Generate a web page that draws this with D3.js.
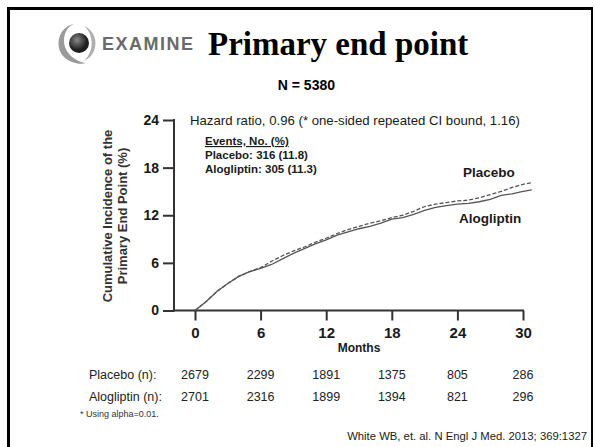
<!DOCTYPE html>
<html>
<head>
<meta charset="utf-8">
<script src="https://cdn.jsdelivr.net/npm/d3@7"></script>
<style>
    body { margin: 0; background: #fff; }
    svg { display: block; font-family: "Liberation Sans", Arial, sans-serif; }
</style>
</head>
<body>
<svg id="chart" width="595" height="447"></svg>
<script>
const months = [0, 1, 2, 3, 4, 5, 6, 7, 8, 9, 10, 11, 12, 13, 14, 15, 16, 17, 18, 19, 20,
    21, 22, 23, 24, 25, 26, 27, 28, 29, 30, 30.8];
const placeboValues = [0, 1.1, 2.4, 3.4, 4.3, 4.9, 5.4, 6.2, 6.9, 7.5, 8.0, 8.6, 9.1, 9.7, 10.2,
    10.6, 11.0, 11.3, 11.7, 12.0, 12.5, 13.1, 13.4, 13.6, 13.8, 13.9, 14.2, 14.6, 15.0, 15.5, 15.9, 16.1];
const alogliptinValues = [0, 1.1, 2.4, 3.4, 4.3, 4.9, 5.3, 5.8, 6.5, 7.2, 7.8, 8.4, 8.9, 9.5, 9.9,
    10.3, 10.6, 11.0, 11.5, 11.7, 12.1, 12.6, 13.0, 13.2, 13.4, 13.5, 13.7, 14.0, 14.5, 14.7, 15.0, 15.2];
const xTicks = [0, 6, 12, 18, 24, 30];
const yTicks = [0, 6, 12, 18, 24];
const placeboAtRisk = [2679, 2299, 1891, 1375, 805, 286];
const alogliptinAtRisk = [2701, 2316, 1899, 1394, 821, 296];

const svg = d3.select("#chart");
const ink = "#1a1a1a";

// Slide frame
svg.append("path")
    .attr("d", "M8.5,447 V8.5 H592")
    .attr("fill", "none")
    .attr("stroke", "#000")
    .attr("stroke-width", 3);
svg.append("line")
    .attr("x1", 592).attr("x2", 592).attr("y1", 7).attr("y2", 447)
    .attr("stroke", "#000").attr("stroke-width", 2);

// Logo
const defs = svg.append("defs");
const grad = defs.append("radialGradient").attr("id", "ball").attr("cx", "40%").attr("cy", "35%");
grad.append("stop").attr("offset", "0%").attr("stop-color", "#888");
grad.append("stop").attr("offset", "100%").attr("stop-color", "#1e1e1e");
const logo = svg.append("g").attr("transform", "translate(78,43)");
logo.append("path")
    .attr("d", "M-4,-19 C-20,-16 -24,4 -14,14 C-8,20 2,22 8,20 C-2,19 -14,10 -14,-2 C-14,-12 -9,-17 -4,-19 Z")
    .attr("fill", "#9a9a9a");
logo.append("path")
    .attr("d", "M6,-17 C16,-13 20,-2 16,8 C14,13 10,16 6,18 C12,12 15,4 13,-5 C12,-10 10,-14 6,-17 Z")
    .attr("fill", "#b0b0b0");
logo.append("circle").attr("cx", 1).attr("cy", 0).attr("r", 10).attr("fill", "url(#ball)");

svg.append("text")
    .attr("x", 102).attr("y", 50)
    .style("font-size", "18px")
    .style("font-weight", "bold")
    .style("letter-spacing", "1.5px")
    .attr("fill", "#6a6a6a")
    .text("EXAMINE");

// Title
svg.append("text")
    .attr("x", 208).attr("y", 55)
    .style("font-family", "'Liberation Serif', 'Times New Roman', serif")
    .style("font-size", "33px")
    .style("font-weight", "bold")
    .attr("fill", "#000")
    .text("Primary end point");

svg.append("text")
    .attr("x", 335).attr("y", 90)
    .style("text-anchor", "end")
    .style("font-size", "14px")
    .style("font-weight", "bold")
    .attr("fill", "#000")
    .text("N = 5380");

// Scales
const x = d3.scaleLinear().domain([0, 30]).range([195, 523]);
const y = d3.scaleLinear().domain([0, 24]).range([310.5, 120]);
const axisLeftX = 174;

// Axes
const yAxis = svg.append("g")
    .attr("transform", `translate(${axisLeftX},0)`)
    .call(d3.axisLeft(y).tickValues(yTicks).tickSize(11).tickPadding(4).tickSizeOuter(0));
const xAxis = svg.append("g")
    .attr("transform", `translate(0,${y(0)})`)
    .call(d3.axisBottom(x).tickValues(xTicks).tickSize(10).tickPadding(7).tickSizeOuter(0));

[xAxis, yAxis].forEach(function (a) {
    a.select(".domain").remove();
    a.selectAll("line").attr("stroke", "#333").attr("stroke-width", 2);
    a.selectAll("text")
        .attr("fill", ink)
        .style("font-family", "'Liberation Sans', Arial, sans-serif")
        .style("font-weight", "bold");
});
yAxis.selectAll("text").style("font-size", "14px");
xAxis.selectAll("text").style("font-size", "15px");

svg.append("line")
    .attr("x1", axisLeftX).attr("x2", axisLeftX)
    .attr("y1", y(24) - 1).attr("y2", y(0) + 1)
    .attr("stroke", "#333").attr("stroke-width", 2);
svg.append("line")
    .attr("x1", axisLeftX - 1).attr("x2", x(30) + 1)
    .attr("y1", y(0)).attr("y2", y(0))
    .attr("stroke", "#333").attr("stroke-width", 2);

svg.append("text")
    .attr("x", x(15)).attr("y", 352)
    .style("text-anchor", "middle")
    .style("font-size", "12px")
    .style("font-weight", "bold")
    .attr("fill", ink)
    .text("Months");

// Y-axis title
const yTitle = svg.append("text")
    .attr("transform", "translate(112,216) rotate(-90)")
    .style("text-anchor", "middle")
    .style("font-size", "13px")
    .style("font-weight", "bold")
    .attr("fill", "#333");
yTitle.append("tspan").attr("x", 0).attr("y", 0).text("Cumulative Incidence of the");
yTitle.append("tspan").attr("x", 0).attr("y", 15).text("Primary End Point (%)");

// Curves
const line = d3.line()
    .x(function (d) { return x(d[0]); })
    .y(function (d) { return y(d[1]); })
    .curve(d3.curveLinear);

svg.append("path")
    .datum(d3.zip(months, alogliptinValues))
    .attr("d", line)
    .attr("fill", "none")
    .attr("stroke", "#555")
    .attr("stroke-width", 1.3);

svg.append("path")
    .datum(d3.zip(months, placeboValues))
    .attr("d", line)
    .attr("fill", "none")
    .attr("stroke", "#555")
    .attr("stroke-width", 1.3)
    .attr("stroke-dasharray", "4,2");

// Annotations
svg.append("text")
    .attr("x", 190).attr("y", 125)
    .style("font-size", "13.2px")
    .attr("fill", ink)
    .text("Hazard ratio, 0.96 (* one-sided repeated CI bound, 1.16)");

const events = svg.append("g")
    .style("font-size", "11.5px")
    .style("font-weight", "bold")
    .attr("fill", ink);
events.append("text").attr("x", 205).attr("y", 145)
    .style("text-decoration", "underline")
    .text("Events, No. (%)");
events.append("text").attr("x", 205).attr("y", 159).text("Placebo: 316 (11.8)");
events.append("text").attr("x", 205).attr("y", 173).text("Alogliptin: 305 (11.3)");

svg.append("text")
    .attr("x", 463).attr("y", 177)
    .style("font-size", "13.5px")
    .style("font-weight", "bold")
    .attr("fill", ink)
    .text("Placebo");
svg.append("text")
    .attr("x", 459).attr("y", 223)
    .style("font-size", "13.5px")
    .style("font-weight", "bold")
    .attr("fill", ink)
    .text("Alogliptin");

// Numbers at risk
const riskRows = [
    {label: "Placebo (n):", values: placeboAtRisk, y: 379},
    {label: "Alogliptin (n):", values: alogliptinAtRisk, y: 401}
];
riskRows.forEach(function (row) {
    svg.append("text")
        .attr("x", 89).attr("y", row.y)
        .style("font-size", "12.5px")
        .attr("fill", "#222")
        .text(row.label);
    svg.selectAll(null)
        .data(row.values)
        .enter()
        .append("text")
        .attr("x", function (d, i) { return x(xTicks[i]); })
        .attr("y", row.y)
        .style("text-anchor", "middle")
        .style("font-size", "12.5px")
        .attr("fill", "#222")
        .text(function (d) { return d; });
});

svg.append("text")
    .attr("x", 80).attr("y", 417)
    .style("font-size", "9px")
    .attr("fill", "#333")
    .text("* Using alpha=0.01.");

svg.append("text")
    .attr("x", 587).attr("y", 440)
    .style("text-anchor", "end")
    .style("font-size", "11.3px")
    .attr("fill", ink)
    .text("White WB, et. al. N Engl J Med. 2013; 369:1327");
</script>
</body>
</html>
